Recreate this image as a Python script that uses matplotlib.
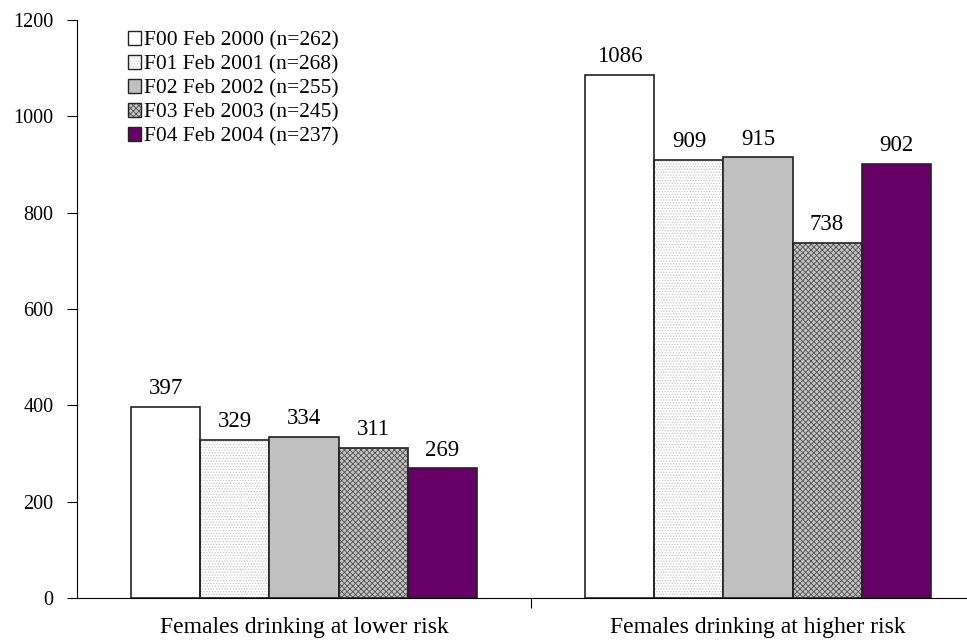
import numpy as np
import matplotlib
matplotlib.use("Agg")
import matplotlib.pyplot as plt
from matplotlib.patches import Patch

categories = ["Females drinking at lower risk", "Females drinking at higher risk"]
series_labels = ["F00 Feb 2000 (n=262)", "F01 Feb 2001 (n=268)", "F02 Feb 2002 (n=255)",
                 "F03 Feb 2003 (n=245)", "F04 Feb 2004 (n=237)"]
f00 = [397, 1086]
f01 = [329, 909]
f02 = [334, 915]
f03 = [311, 738]
f04 = [269, 902]
yticks = [0, 200, 400, 600, 800, 1000, 1200]

series = [f00, f01, f02, f03, f04]
# face colour, hatch pattern, hatch colour
styles = [
    ("#ffffff", None, None),
    ("#ffffff", "......", "#c8c8c8"),
    ("#c0c0c0", None, None),
    ("#c4c4c4", "xxxxxx", "#505050"),
    ("#660066", None, None),
]

plt.rcParams["font.family"] = ["Liberation Serif", "DejaVu Serif"]
plt.rcParams["font.size"] = 14
plt.rcParams["hatch.linewidth"] = 0.6

fig = plt.figure(figsize=(9.67, 6.41), dpi=100)
ax = fig.add_axes([77 / 967, 43 / 641, 908 / 967, 578 / 641])

x = np.arange(len(categories))
width = 0.152
handles = []
for i, (vals, (fc, hatch, hc)) in enumerate(zip(series, styles)):
    pos = x + (i - 2) * width
    if hatch:
        ax.bar(pos, vals, width, color=fc, hatch=hatch, edgecolor=hc, linewidth=0, zorder=2)
    ax.bar(pos, vals, width, facecolor=fc if not hatch else "none",
           edgecolor="#222222", linewidth=1.2, zorder=3)
    for p, v in zip(pos, vals):
        ax.text(p, v + 16, str(v), ha="center", va="bottom", fontsize=16.5)
    fill = Patch(facecolor=fc, hatch=hatch, edgecolor=hc if hatch else fc, linewidth=0)
    edge = Patch(facecolor="none", edgecolor="#222222", linewidth=1.0)
    handles.append((fill, edge))

ax.set_xlim(-0.5, 1.5)
ax.set_ylim(0, 1200)
ax.set_yticks(yticks)
ax.set_xticks([0.5])
ax.set_xticklabels([""])
ax.tick_params(axis="x", length=7, direction="out", width=0.8)
ax.tick_params(axis="y", length=7, direction="out", width=0.8, pad=10, labelsize=14.5)
for c, lab in zip(x, categories):
    ax.text(c, -39, lab, ha="center", va="top", fontsize=17)

for s in ["top", "right"]:
    ax.spines[s].set_visible(False)
ax.spines["left"].set_linewidth(0.8)
ax.spines["bottom"].set_linewidth(0.8)

ax.legend(handles, series_labels, loc="upper left", bbox_to_anchor=(0.044, 1.0),
          frameon=False, handlelength=0.62, handleheight=0.62, handletextpad=0.15,
          labelspacing=0.21, fontsize=15.5, borderaxespad=0.1)

fig.savefig("out.png", dpi=100)
